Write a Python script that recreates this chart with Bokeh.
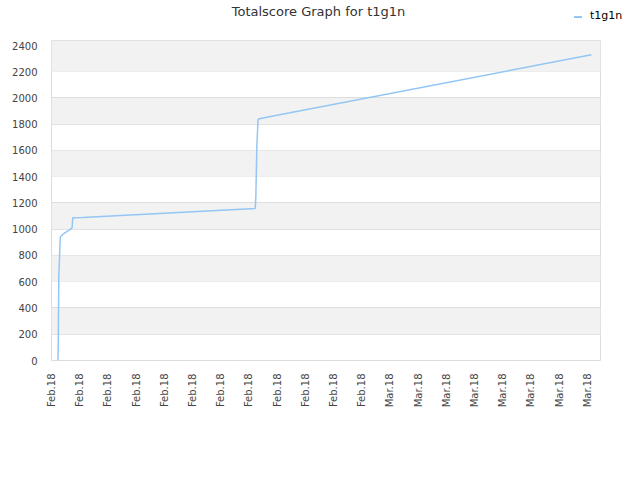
from datetime import datetime, timedelta
from bokeh.plotting import figure
from bokeh.layouts import column
from bokeh.models import (Range1d, FixedTicker, DatetimeTickFormatter, BoxAnnotation,
                          ColumnDataSource, Div)
from bokeh.embed import file_html
from bokeh.resources import INLINE

# ---- data ----
times = ["2018-02-05 10:43", "2018-02-05 11:14", "2018-02-05 12:15", "2018-02-05 14:49",
         "2018-02-05 18:43", "2018-02-06 03:14", "2018-02-06 10:54", "2018-02-06 12:05",
         "2018-02-07 04:46", "2018-02-19 10:43", "2018-02-19 11:45", "2018-02-19 13:27",
         "2018-02-19 15:29", "2018-02-19 18:03", "2018-02-20 05:57", "2018-03-15 07:09"]
scores = [0, 75, 640, 940, 960, 985, 1010, 1087, 1090, 1158, 1250, 1630, 1835, 1842, 1854, 2329]
series_name = "t1g1n"
title_text = "Totalscore Graph for t1g1n"
y_ticks = list(range(0, 2401, 200))
x_tick_start = "2018-02-05"
x_tick_step_days = 2
x_tick_count = 20

LINE_COLOR = "#94c6f5"

xs = [datetime.strptime(t, "%Y-%m-%d %H:%M") for t in times]
src = ColumnDataSource(dict(x=xs, y=scores))

t0 = datetime.strptime(x_tick_start, "%Y-%m-%d")
tick_dates = [t0 + timedelta(days=x_tick_step_days * i) for i in range(x_tick_count)]
tick_ms = [(d - datetime(1970, 1, 1)).total_seconds() * 1000 for d in tick_dates]

# ---- header: title + legend ----
header_html = (
    '<div style="position:relative;width:640px;height:40px;font-family:\'DejaVu Sans\';">'
    '<div style="position:absolute;left:0px;width:637px;top:4px;line-height:16px;'
    'text-align:center;font-size:13px;color:#333333;white-space:nowrap;">'
    + title_text + '</div>'
    '<div style="position:absolute;left:574px;top:16px;width:8px;height:2px;background:'
    + LINE_COLOR + ';"></div>'
    '<div style="position:absolute;left:590px;top:9px;line-height:14px;font-size:11px;'
    'color:#000000;white-space:nowrap;">' + series_name + '</div>'
    '</div>'
)
head = Div(text=header_html, width=640, height=40, margin=0)

# ---- main plot ----
p = figure(width=640, height=440, x_axis_type="datetime", output_backend="svg",
           toolbar_location=None, min_border_left=51, min_border_right=40,
           min_border_top=0, min_border_bottom=120)
p.x_range = Range1d(t0 - timedelta(minutes=10), t0 + timedelta(days=38.94))
p.y_range = Range1d(0, 2438)

for v in y_ticks:
    if (v // 200) % 2 == 1:
        top = v + 200 if v + 200 <= 2200 else None
        p.add_layout(BoxAnnotation(bottom=v, top=top, fill_color="#f2f2f2", fill_alpha=1.0,
                                   line_alpha=0, level="underlay"))

r = p.line("x", "y", source=src, line_color=LINE_COLOR, line_width=1.5)

p.xaxis.ticker = FixedTicker(ticks=tick_ms)
p.xaxis.formatter = DatetimeTickFormatter(days="%b.%y", months="%b.%y", hours="%b.%y")
p.xaxis.major_label_orientation = 1.5708
p.yaxis.ticker = FixedTicker(ticks=y_ticks)

for ax in (p.xaxis[0], p.yaxis[0]):
    ax.major_label_text_font = "DejaVu Sans"
    ax.major_label_text_font_size = "10px"
    ax.major_label_text_color = "#444444"
    ax.axis_line_color = None
    ax.major_tick_line_color = None
    ax.minor_tick_line_color = None
p.xaxis.major_label_standoff = 7
p.yaxis.major_label_standoff = 8

p.xgrid.grid_line_color = None
p.ygrid.grid_line_color = "#dddddd"
p.ygrid.ticker = FixedTicker(ticks=y_ticks)
p.outline_line_color = "#dcdcdc"
p.outline_line_width = 1
p.background_fill_color = "white"
p.border_fill_color = "white"

layout = column(head, p, spacing=0)
open("out.html", "w").write(file_html(layout, INLINE))
